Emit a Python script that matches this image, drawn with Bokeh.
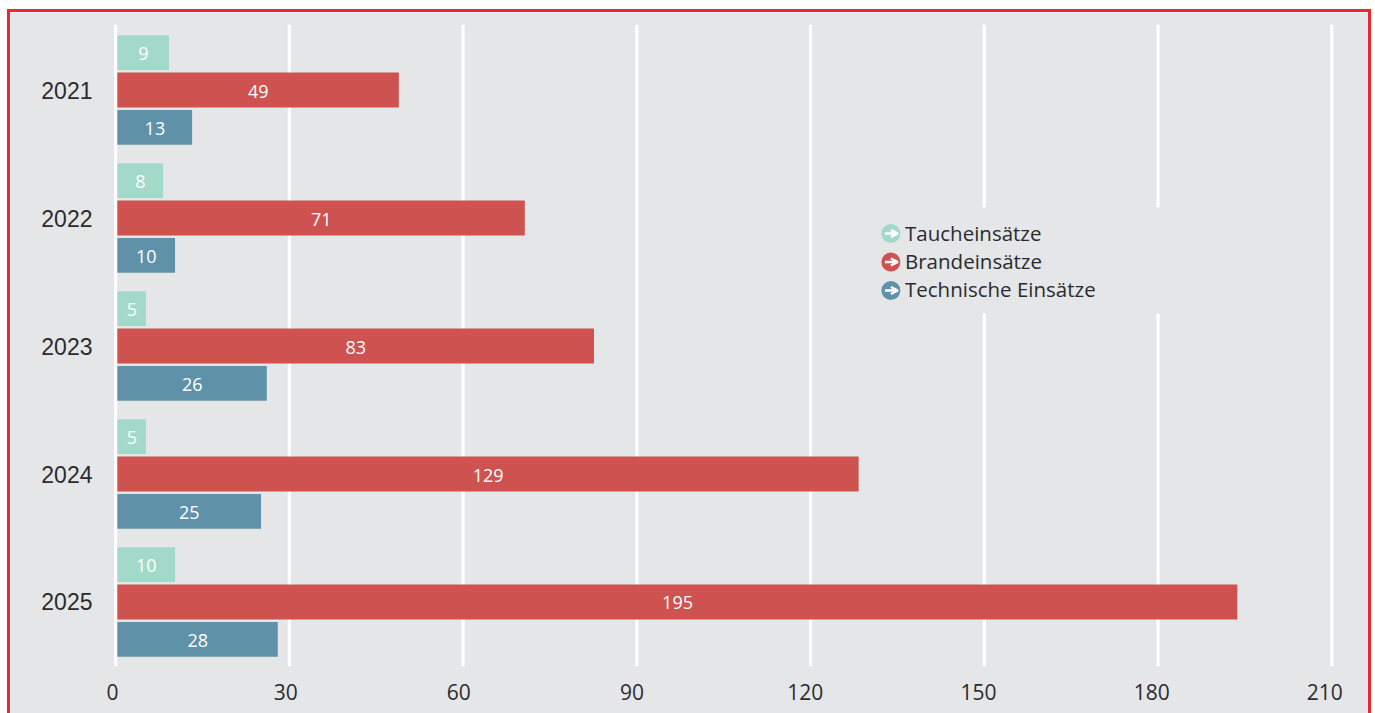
from bokeh.plotting import figure
from bokeh.embed import file_html
from bokeh.resources import INLINE
from bokeh.models import (ColumnDataSource, Range1d, LinearAxis, FixedTicker, Span, NumeralTickFormatter,
                          BoxAnnotation, Legend, LegendItem, Arrow, OpenHead)
from bokeh.core.properties import value

years = [2021, 2022, 2023, 2024, 2025]
taucheinsaetze_labels = ["9", "8", "5", "5", "10"]
brandeinsaetze_labels = ["49", "71", "83", "129", "195"]
technische_labels = ["13", "10", "26", "25", "28"]
# bar lengths as drawn in the picture
taucheinsaetze = [9.2, 8.2, 5.25, 5.25, 10.25]
brandeinsaetze = [48.9, 70.65, 82.6, 128.3, 193.7]
technische = [13.2, 10.25, 26.1, 25.1, 28.0]
x_ticks = [0, 30, 60, 90, 120, 150, 180, 210]

GREY = "#e5e6e8"
INK = "#2b2b2d"
RED_LINE = "#ee2430"
BAR_FONT = "Open Sans"
series = [
    ("Taucheinsätze", taucheinsaetze, taucheinsaetze_labels, "#a3d9c8", -0.292),
    ("Brandeinsätze", brandeinsaetze, brandeinsaetze_labels, "#cd5250", 0.0),
    ("Technische Einsätze", technische, technische_labels, "#5f92a9", 0.292),
]
# legend key positions, in page pixels
legend_key_x = 891
legend_key_y = [233, 261.5, 290]

p = figure(width=1358, height=701, output_backend="svg", toolbar_location=None,
           y_range=Range1d(2025.504, 2020.488),
           x_range=Range1d(-1.24, 212.2),
           min_border_left=98, min_border_right=30, min_border_top=12, min_border_bottom=50,
           x_axis_location=None, tools="")
p.border_fill_color = GREY
p.background_fill_color = GREY
p.outline_line_color = GREY
p.outline_line_width = 2
p.styles = {"margin-left": "7px", "margin-top": "9px", "box-sizing": "content-box",
            "border-left": f"3px solid {RED_LINE}", "border-top": f"3px solid {RED_LINE}",
            "border-right": f"3px solid {RED_LINE}"}

p.ygrid.visible = False
p.xgrid.visible = False
for t in x_ticks:
    p.add_layout(Span(location=t, dimension="height", line_color="white", line_width=3.2,
                      level="overlay" if t == 0 else "underlay"))

p.extra_x_ranges["labels"] = Range1d(-0.69, 213.4)
xax = LinearAxis(x_range_name="labels", ticker=FixedTicker(ticks=x_ticks))
xax.axis_line_color = None
xax.major_tick_line_color = None
xax.minor_tick_line_color = None
xax.major_label_text_font = "Open Sans"
xax.major_label_text_font_size = "21px"
xax.major_label_text_color = INK
xax.major_label_standoff = 11
p.add_layout(xax, "below")

yax = p.yaxis[0]
yax.ticker = FixedTicker(ticks=years)
yax.formatter = NumeralTickFormatter(format="0")
yax.axis_line_color = None
yax.major_tick_line_color = None
yax.minor_tick_line_color = None
yax.major_label_text_font = "Liberation Sans"
yax.major_label_text_font_size = "23px"
yax.major_label_text_color = INK
yax.major_label_standoff = 10

for name, vals, labels, color, off in series:
    src = ColumnDataSource(dict(y=[yr + off for yr in years], v=vals, mid=[a / 2 for a in vals], lab=labels))
    p.hbar(y="y", left=0, right="v", height=0.2726, fill_color=color, line_color=None, source=src)
    p.text(x="mid", y="y", text="lab", source=src, text_color="white", text_align="center",
           text_baseline="middle", x_offset=1, y_offset=1, text_font=value(BAR_FONT), text_font_size="18px")

# legend: page-pixel ranges over the frame
p.extra_x_ranges["px"] = Range1d(108, 1345)
p.extra_y_ranges["px"] = Range1d(666, 24)
p.add_layout(BoxAnnotation(left=854, right=1158, top=192, bottom=298, left_units="canvas", right_units="canvas",
                           top_units="canvas", bottom_units="canvas", editable=False,
                           fill_color=GREY, fill_alpha=1, line_color=None))

items = []
for (name, _v, _l, color, _o), ky in zip(series, legend_key_y):
    key = p.scatter(x=[legend_key_x], y=[ky], marker="circle", size=19, fill_color=color, line_color=None,
                    x_range_name="px", y_range_name="px", level="overlay")
    items.append(LegendItem(label=name, renderers=[key]))
    p.add_layout(Arrow(x_start=legend_key_x - 6, x_end=legend_key_x + 7, y_start=ky, y_end=ky,
                       x_range_name="px", y_range_name="px", level="overlay", start=None,
                       end=OpenHead(size=7, line_color="white", line_width=2.5),
                       line_color="white", line_width=2.5))

legend = Legend(items=items, location=(796, 363), orientation="vertical", glyph_width=1, glyph_height=28,
                spacing=0, label_standoff=0, padding=0, margin=0,
                background_fill_alpha=0, border_line_color=None,
                label_text_font="Open Sans", label_text_font_size="20.5px", label_text_color=INK)
p.add_layout(legend, "center")

open("out.html", "w").write(file_html(p, INLINE))
